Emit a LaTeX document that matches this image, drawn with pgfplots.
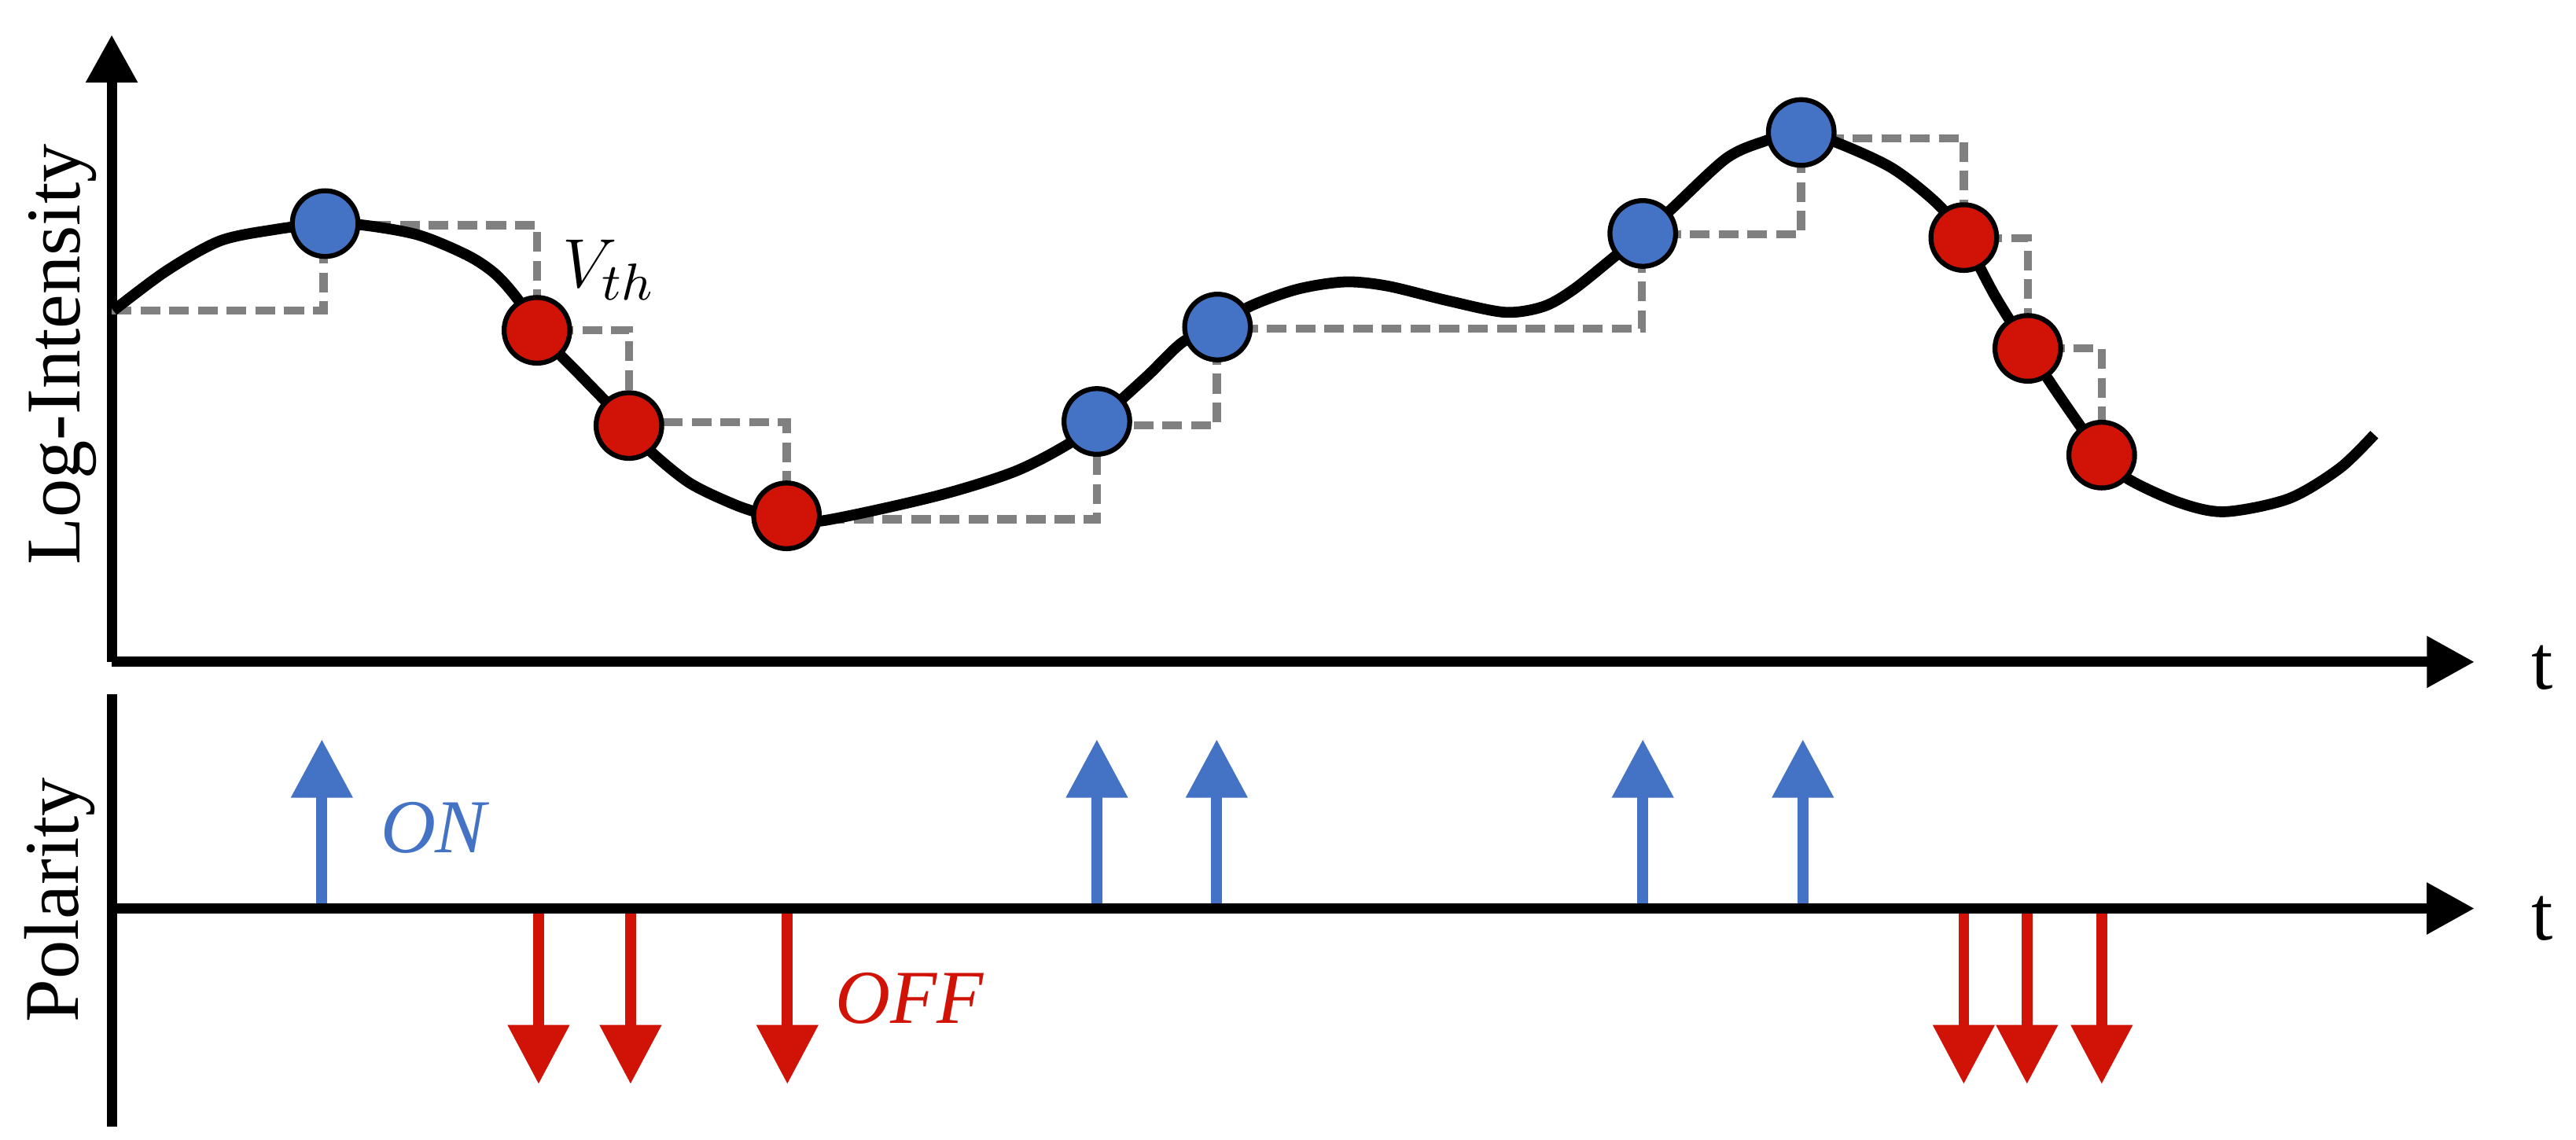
\documentclass[border=0pt]{standalone}
\usepackage{pgfplots}
\pgfplotsset{compat=1.18}
\usepackage{pgfplotstable}
\usepackage{fontspec}
\setmainfont{Liberation Serif}
\usetikzlibrary{arrows.meta}
\definecolor{OnBlue}{HTML}{4472C4}
\definecolor{OffRed}{HTML}{D01306}
\definecolor{Stair}{HTML}{808080}

% log-intensity curve (x: time, y: level), 1 unit = 0.01cm
\pgfplotstableread{
x y
69 505
101 529
134 547.5
168 554.5
198 558
222 557
255 551
285 538.5
302 527
316 511
327 493
355 464
383 435
396 419.5
420 400
447 387
465 381
479 378.5
501 377
570 392
618 407
651 424
668 437.5
698.5 465
720.5 486
741.5 495
761 507.5
790 518
819 522.5
845 520
882 511
916.5 504
940 507.5
958.5 518
984 538.5
1000.5 552
1017 566
1051 597.5
1074 608
1096 613.5
1117 608
1152 592
1180 570
1196 549.5
1215 514
1235 482
1257 449
1280 417
1296 402.5
1327.5 388
1355 382.5
1394 390.5
1425 409
1446 429.5
}\curve

% threshold staircase
\pgfplotstableread{
x y
68 505
197 557
327 493
383 437
479 378
668 435
741 494
1000 551.5
1097 610
1196 549
1235 482
1280 417
}\stair

% events
\pgfplotstableread{
x y
198 558
668 437.5
741.5 495
1000.5 552
1097 613.5
}\onpts
\pgfplotstableread{
x y
327 493
383 435
479 380
1196 549.5
1235 482
1280 417
}\offpts

% polarity arrows
\pgfplotstableread{
x y v
196 0 103
668 0 103
741 0 103
1000.5 0 103
1098 0 103
}\onarr
\pgfplotstableread{
x y v
328 0 -107
384 0 -107
479.5 0 -107
1196 0 -107
1234.5 0 -107
1280 0 -107
}\offarr

\begin{document}
\begin{tikzpicture}
\pgfplotsset{
  every axis/.append style={
    x=0.01cm, y=0.01cm, xmin=68, xmax=1507,
    xtick=\empty, ytick=\empty, clip=false,
    axis line style={line width=0.062cm, -{Triangle[length=0.29cm,width=0.3cm]}},
    label style={font=\fontsize{13.4}{16}\selectfont, inner sep=0pt},
  }
}
\begin{axis}[
  ymin=291, ymax=673,
  anchor=south west, at={(0.68cm,2.91cm)},
  axis lines*=left,
  xlabel={t}, xlabel style={at={(axis description cs:1,0)}, anchor=base west, xshift=0.34cm, yshift=-0.165cm},
  ylabel={Log-Intensity}, ylabel style={at={(axis description cs:-0.0134,0.49)}, anchor=base},
]
\addplot[Stair, line width=0.05cm, dash pattern=on 0.12cm off 0.055cm, const plot] table {\stair};
\addplot[black, line width=0.066cm, smooth] table {\curve};
\addplot[only marks, mark=*, mark size=0.2cm, mark options={fill=OnBlue, draw=black, line width=0.03cm}] table {\onpts};
\addplot[only marks, mark=*, mark size=0.2cm, mark options={fill=OffRed, draw=black, line width=0.03cm}] table {\offpts};
\node[anchor=base west, inner sep=0pt, font=\fontsize{12.5}{15}\selectfont] at (axis cs:342,519) {$V_{th}$};
\end{axis}

\begin{axis}[
  ymin=-133, ymax=130.5,
  anchor=south west, at={(0.68cm,0.08cm)},
  axis x line*=middle, axis y line*=left, axis on top,
  y axis line style={-},
  xlabel={t}, xlabel style={at={(axis cs:1507,0)}, font=\fontsize{13.4}{16}\selectfont, anchor=base west, xshift=0.34cm, yshift=-0.19cm},
  ylabel={Polarity}, ylabel style={at={(axis description cs:-0.014,0.524)}, anchor=base},
]
\addplot[OnBlue, line width=0.066cm, -{Triangle[length=0.355cm,width=0.36cm]}, quiver={u=0,v=\thisrow{v}}] table[x=x,y=y] {\onarr};
\addplot[OffRed, line width=0.066cm, -{Triangle[length=0.36cm,width=0.36cm]}, quiver={u=0,v=\thisrow{v}}] table[x=x,y=y] {\offarr};
\node[OnBlue, font=\fontsize{13.2}{15}\selectfont\itshape] at (axis cs:264,49) {ON};
\node[OffRed, font=\fontsize{13.2}{15}\selectfont\itshape] at (axis cs:554,-55) {OFF};
\end{axis}
\path (0,0) rectangle (15.68cm,6.94cm);
\end{tikzpicture}
\end{document}
